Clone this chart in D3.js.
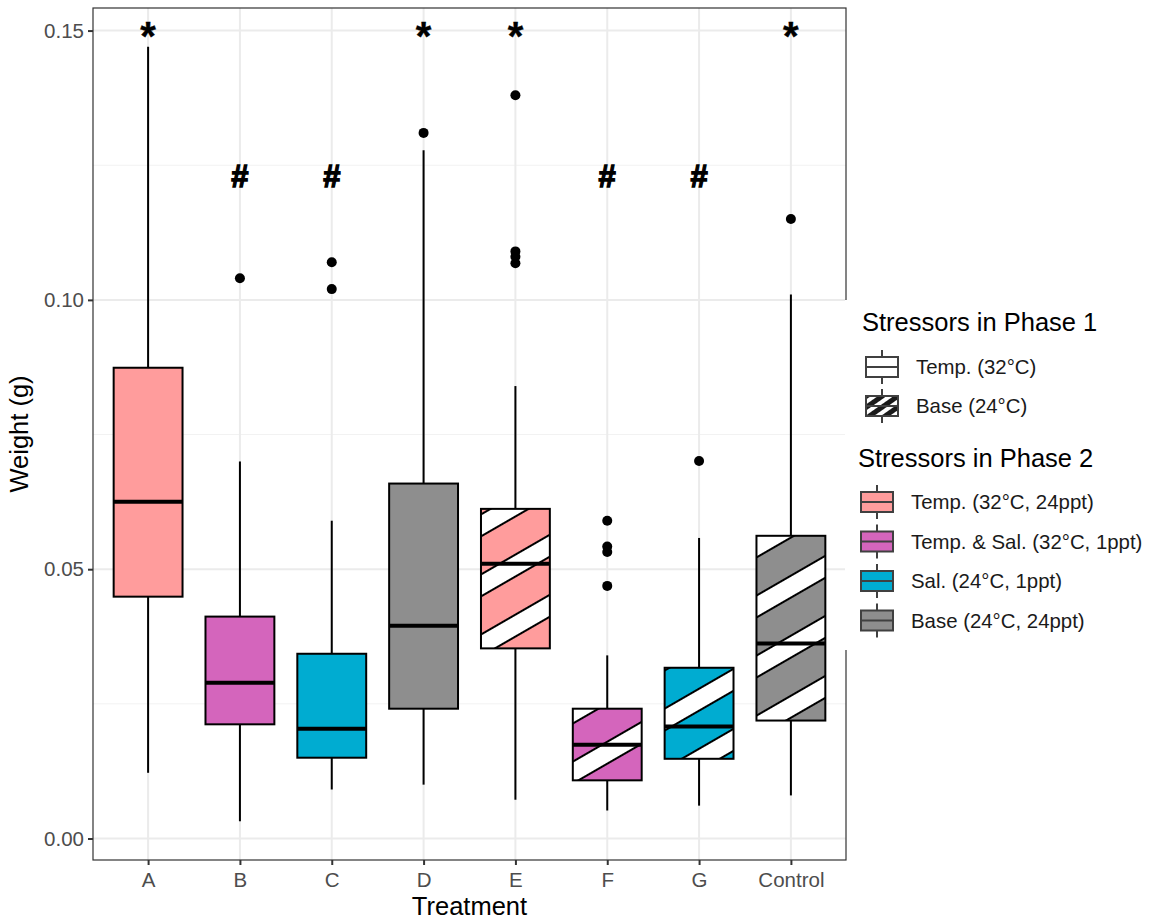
<!DOCTYPE html>
<html>
<head>
<meta charset="utf-8">
<script src="https://cdn.jsdelivr.net/npm/d3@7"></script>
<style>
  body { margin: 0; background: #fff; }
  svg { font-family: "Liberation Sans", Arial, sans-serif; }
</style>
</head>
<body>
<svg id="chart" width="1152" height="922"></svg>
<script>
// box statistics per treatment
var categories = ["A", "B", "C", "D", "E", "F", "G", "Control"];
var whiskerHigh = [0.147, 0.070, 0.059, 0.1278, 0.084, 0.034, 0.0558, 0.101];
var q3 = [0.0874, 0.0412, 0.0343, 0.0659, 0.0612, 0.0241, 0.0317, 0.0562];
var medians = [0.0625, 0.0289, 0.0204, 0.0395, 0.0510, 0.0174, 0.0208, 0.0362];
var q1 = [0.0449, 0.0212, 0.0150, 0.0241, 0.0353, 0.0108, 0.0148, 0.0219];
var whiskerLow = [0.0122, 0.0032, 0.0091, 0.0100, 0.0072, 0.0052, 0.0061, 0.0080];

// outliers as [treatment, value]
var outliers = [
  ["B", 0.104],
  ["C", 0.107], ["C", 0.102],
  ["D", 0.131],
  ["E", 0.138], ["E", 0.109], ["E", 0.108], ["E", 0.1068],
  ["F", 0.059], ["F", 0.0542], ["F", 0.0532], ["F", 0.0469],
  ["G", 0.0701],
  ["Control", 0.115]
];

// phase 1 / phase 2 stressor for each treatment
var phase1 = ["temp", "temp", "temp", "temp", "base", "base", "base", "base"];
var phase2 = ["temp", "tempsal", "sal", "base", "temp", "tempsal", "sal", "base"];

// significance marks above the boxes
var marks = ["*", "#", "#", "*", "*", "#", "#", "*"];
var markLevels = {"*": 0.15, "#": 0.123};

var phase1Keys = ["temp", "base"];
var phase1Labels = ["Temp. (32°C)", "Base (24°C)"];
var phase2Keys = ["temp", "tempsal", "sal", "base"];
var phase2Labels = ["Temp. (32°C, 24ppt)", "Temp. & Sal. (32°C, 1ppt)", "Sal. (24°C, 1ppt)", "Base (24°C, 24ppt)"];
var phase2Colors = ["#FF9C9C", "#D465BC", "#00ACD1", "#8E8E8E"];

var yTicks = [0, 0.05, 0.10, 0.15];
var yMinorTicks = [0.025, 0.075, 0.125];

var svg = d3.select("#chart");
var defs = svg.append("defs");

var panel = {left: 93, right: 846, top: 8, bottom: 860};

var colorScale = d3.scaleOrdinal().domain(phase2Keys).range(phase2Colors);

// ggplot-like 5% expansion of the data range
var allLow = d3.min(whiskerLow.concat(outliers.map(function(o){ return o[1]; })));
var allHigh = d3.max(whiskerHigh.concat(outliers.map(function(o){ return o[1]; })));
var pad = 0.05 * (allHigh - allLow);

var x = d3.scalePoint().domain(categories).range([panel.left, panel.right]).padding(0.6);
var y = d3.scaleLinear().domain([allLow - pad, allHigh + pad]).range([panel.bottom, panel.top]);
var boxWidth = x.step() * 0.75;

// hatch pattern for every phase 2 colour (stripes at 30 degrees)
phase2Keys.forEach(function(key){
  var p = defs.append("pattern")
    .attr("id", "hatch-" + key)
    .attr("patternUnits", "userSpaceOnUse")
    .attr("width", 60).attr("height", 52)
    .attr("patternTransform", "rotate(-30)");
  p.append("rect").attr("width", 60).attr("height", 52).attr("fill", colorScale(key));
  p.append("rect").attr("y", 10).attr("width", 60).attr("height", 19).attr("fill", "#fff");
  p.append("line").attr("x1", 0).attr("x2", 60).attr("y1", 10).attr("y2", 10)
    .attr("stroke", "#000").attr("stroke-width", 1.8);
  p.append("line").attr("x1", 0).attr("x2", 60).attr("y1", 29).attr("y2", 29)
    .attr("stroke", "#000").attr("stroke-width", 1.8);
});

// small dense hatch for the legend key
var kp = defs.append("pattern")
  .attr("id", "hatch-key")
  .attr("patternUnits", "userSpaceOnUse")
  .attr("width", 20).attr("height", 9)
  .attr("patternTransform", "rotate(-35)");
kp.append("rect").attr("width", 20).attr("height", 9).attr("fill", "#fff");
kp.append("rect").attr("width", 20).attr("height", 5).attr("fill", "#1a1a1a");

// panel background + grid
var grid = svg.append("g");
grid.selectAll("line.minor").data(yMinorTicks).enter().append("line")
  .attr("x1", panel.left).attr("x2", panel.right)
  .attr("y1", function(d){ return y(d); }).attr("y2", function(d){ return y(d); })
  .attr("stroke", "#F2F2F2").attr("stroke-width", 1);
grid.selectAll("line.major").data(yTicks).enter().append("line")
  .attr("x1", panel.left).attr("x2", panel.right)
  .attr("y1", function(d){ return y(d); }).attr("y2", function(d){ return y(d); })
  .attr("stroke", "#EBEBEB").attr("stroke-width", 2);
grid.selectAll("line.vmajor").data(categories).enter().append("line")
  .attr("y1", panel.top).attr("y2", panel.bottom)
  .attr("x1", function(d){ return x(d); }).attr("x2", function(d){ return x(d); })
  .attr("stroke", "#EBEBEB").attr("stroke-width", 2);

// boxes
var boxes = svg.append("g").selectAll("g.box").data(categories).enter().append("g");

boxes.append("line")
  .attr("x1", function(d){ return x(d); }).attr("x2", function(d){ return x(d); })
  .attr("y1", function(d, i){ return y(whiskerHigh[i]); })
  .attr("y2", function(d, i){ return y(q3[i]); })
  .attr("stroke", "#000").attr("stroke-width", 2);
boxes.append("line")
  .attr("x1", function(d){ return x(d); }).attr("x2", function(d){ return x(d); })
  .attr("y1", function(d, i){ return y(q1[i]); })
  .attr("y2", function(d, i){ return y(whiskerLow[i]); })
  .attr("stroke", "#000").attr("stroke-width", 2);
boxes.append("rect")
  .attr("x", function(d){ return x(d) - boxWidth / 2; })
  .attr("width", boxWidth)
  .attr("y", function(d, i){ return y(q3[i]); })
  .attr("height", function(d, i){ return y(q1[i]) - y(q3[i]); })
  .attr("fill", function(d, i){
    return phase1[i] == "base" ? "url(#hatch-" + phase2[i] + ")" : colorScale(phase2[i]);
  })
  .attr("stroke", "#000").attr("stroke-width", 2);
boxes.append("line")
  .attr("x1", function(d){ return x(d) - boxWidth / 2; })
  .attr("x2", function(d){ return x(d) + boxWidth / 2; })
  .attr("y1", function(d, i){ return y(medians[i]); })
  .attr("y2", function(d, i){ return y(medians[i]); })
  .attr("stroke", "#000").attr("stroke-width", 4);

// outliers
svg.append("g").selectAll("circle").data(outliers).enter().append("circle")
  .attr("cx", function(d){ return x(d[0]); })
  .attr("cy", function(d){ return y(d[1]); })
  .attr("r", 5).attr("fill", "#000");

// significance marks
svg.append("g").selectAll("text").data(categories).enter().append("text")
  .attr("x", function(d){ return x(d); })
  .attr("y", function(d, i){ return y(markLevels[marks[i]]) + (marks[i] == "*" ? 19 : 11); })
  .attr("text-anchor", "middle")
  .attr("font-weight", "bold")
  .attr("font-size", function(d, i){ return marks[i] == "*" ? 40 : 31; })
  .attr("fill", "#000")
  .attr("stroke", "#000")
  .attr("stroke-width", function(d, i){ return marks[i] == "#" ? 1.3 : 0.4; })
  .text(function(d, i){ return marks[i]; });

// panel border
svg.append("rect")
  .attr("x", panel.left).attr("y", panel.top)
  .attr("width", panel.right - panel.left).attr("height", panel.bottom - panel.top)
  .attr("fill", "none").attr("stroke", "#333").attr("stroke-width", 1.2);

// axes
var yAxis = svg.append("g").attr("transform", "translate(" + panel.left + ",0)")
  .call(d3.axisLeft(y).tickValues(yTicks).tickFormat(d3.format(".2f")).tickSize(5).tickPadding(4));
var xAxis = svg.append("g").attr("transform", "translate(0," + panel.bottom + ")")
  .call(d3.axisBottom(x).tickSize(5).tickPadding(7));
[yAxis, xAxis].forEach(function(ax){
  ax.select(".domain").remove();
  ax.selectAll(".tick line").attr("stroke", "#333").attr("stroke-width", 2);
  ax.selectAll(".tick text").attr("fill", "#4D4D4D").attr("font-size", 20.5)
    .attr("font-family", "Liberation Sans, Arial, sans-serif");
});

svg.append("text")
  .attr("x", (panel.left + panel.right) / 2).attr("y", 915)
  .attr("text-anchor", "middle").attr("font-size", 25.5).text("Treatment");
svg.append("text")
  .attr("transform", "translate(28," + (panel.top + panel.bottom) / 2 + ") rotate(-90)")
  .attr("text-anchor", "middle").attr("font-size", 25.5).text("Weight (g)");

// legend (its background covers part of the panel border, as in the original)
var legend = svg.append("g");
legend.append("rect").attr("x", 845).attr("y", 300).attr("width", 307).attr("height", 350).attr("fill", "#fff");

function drawKey(g, cx, cy, fill){
  g.append("line").attr("x1", cx).attr("x2", cx).attr("y1", cy - 17).attr("y2", cy + 17)
    .attr("stroke", "#404040").attr("stroke-width", 2);
  g.append("rect").attr("x", cx - 16).attr("y", cy - 10).attr("width", 32).attr("height", 20)
    .attr("fill", fill).attr("stroke", "#404040").attr("stroke-width", 2);
  g.append("line").attr("x1", cx - 16).attr("x2", cx + 16).attr("y1", cy).attr("y2", cy)
    .attr("stroke", "#404040").attr("stroke-width", 2);
}

legend.append("text").attr("x", 862).attr("y", 331).attr("font-size", 25.5).text("Stressors in Phase 1");
phase1Keys.forEach(function(k, i){
  var cy = 367 + i * 39;
  drawKey(legend, 882, cy, k == "base" ? "url(#hatch-key)" : "#fff");
  legend.append("text").attr("x", 916).attr("y", cy).attr("dy", "0.35em")
    .attr("font-size", 20.4).attr("fill", "#1a1a1a").text(phase1Labels[i]);
});

legend.append("text").attr("x", 858).attr("y", 467).attr("font-size", 25.5).text("Stressors in Phase 2");
phase2Keys.forEach(function(k, i){
  var cy = 502 + i * 39.5;
  drawKey(legend, 877, cy, colorScale(k));
  legend.append("text").attr("x", 911).attr("y", cy).attr("dy", "0.35em")
    .attr("font-size", 20.4).attr("fill", "#1a1a1a").text(phase2Labels[i]);
});
</script>
</body>
</html>
